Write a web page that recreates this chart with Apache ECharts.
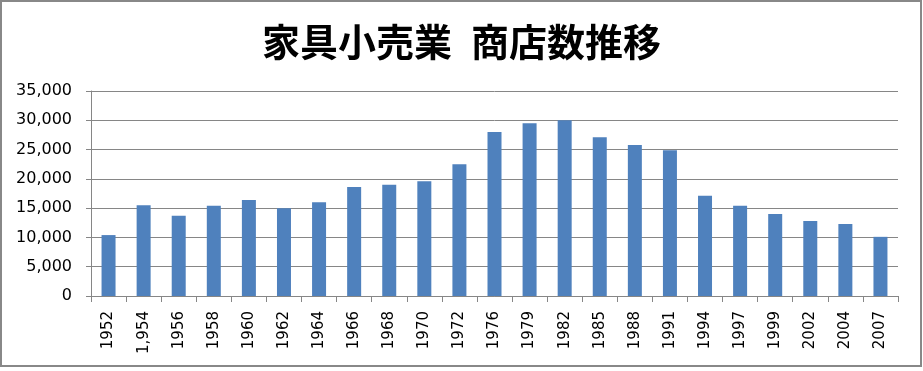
<!DOCTYPE html>
<html>
<head>
<meta charset="utf-8">
<script src="https://cdn.jsdelivr.net/npm/echarts@6/dist/echarts.min.js"></script>
<style>html,body{margin:0;padding:0;background:#fff}#c{width:923px;height:371px}</style>
</head>
<body>
<div id="c"></div>
<script>
const titleText = '家具小売業\u2002商店数推移';
const categories = ['1952','1,954','1956','1958','1960','1962','1964','1966','1968','1970','1972','1976','1979','1982','1985','1988','1991','1994','1997','1999','2002','2004','2007'];
const storeCounts = [10400,15500,13700,15400,16400,15000,16000,18600,19000,19600,22500,28000,29500,30000,27100,25800,24900,17100,15400,14000,12800,12300,10100];
const yTicks = {min:0, max:35000, interval:5000};

const chart = echarts.init(document.getElementById('c'));
chart.setOption({
  animation:false,
  backgroundColor:'#fff',
  title:{text:titleText,left:'center',top:18,textStyle:{fontFamily:'Noto Sans CJK JP',fontSize:38,fontWeight:'bold',color:'#000'}},
  grid:{left:91,right:25,top:91,bottom:75,containLabel:false},
  xAxis:{type:'category',data:categories,boundaryGap:true,
    axisLine:{lineStyle:{color:'#868686',width:1}},
    axisTick:{show:true,alignWithLabel:false,length:6,lineStyle:{color:'#868686'}},
    axisLabel:{rotate:90,interval:0,margin:15,color:'#000',fontFamily:'DejaVu Sans',fontSize:15}},
  yAxis:{type:'value',min:yTicks.min,max:yTicks.max,interval:yTicks.interval,
    axisLine:{show:true,lineStyle:{color:'#868686',width:1}},
    axisTick:{show:true,length:5,lineStyle:{color:'#868686'}},
    splitLine:{lineStyle:{color:'#868686',width:1}},
    axisLabel:{margin:19,color:'#000',fontFamily:'DejaVu Sans',fontSize:16,
      formatter:v=>v.toLocaleString('en-US')}},
  series:[{type:'bar',data:storeCounts,barWidth:14,itemStyle:{color:'#4F81BD'}}],
  graphic:[{type:'rect',shape:{x:1,y:1,width:920,height:365},style:{fill:'none',stroke:'#888',lineWidth:2},silent:true}]
});
</script>
</body>
</html>
